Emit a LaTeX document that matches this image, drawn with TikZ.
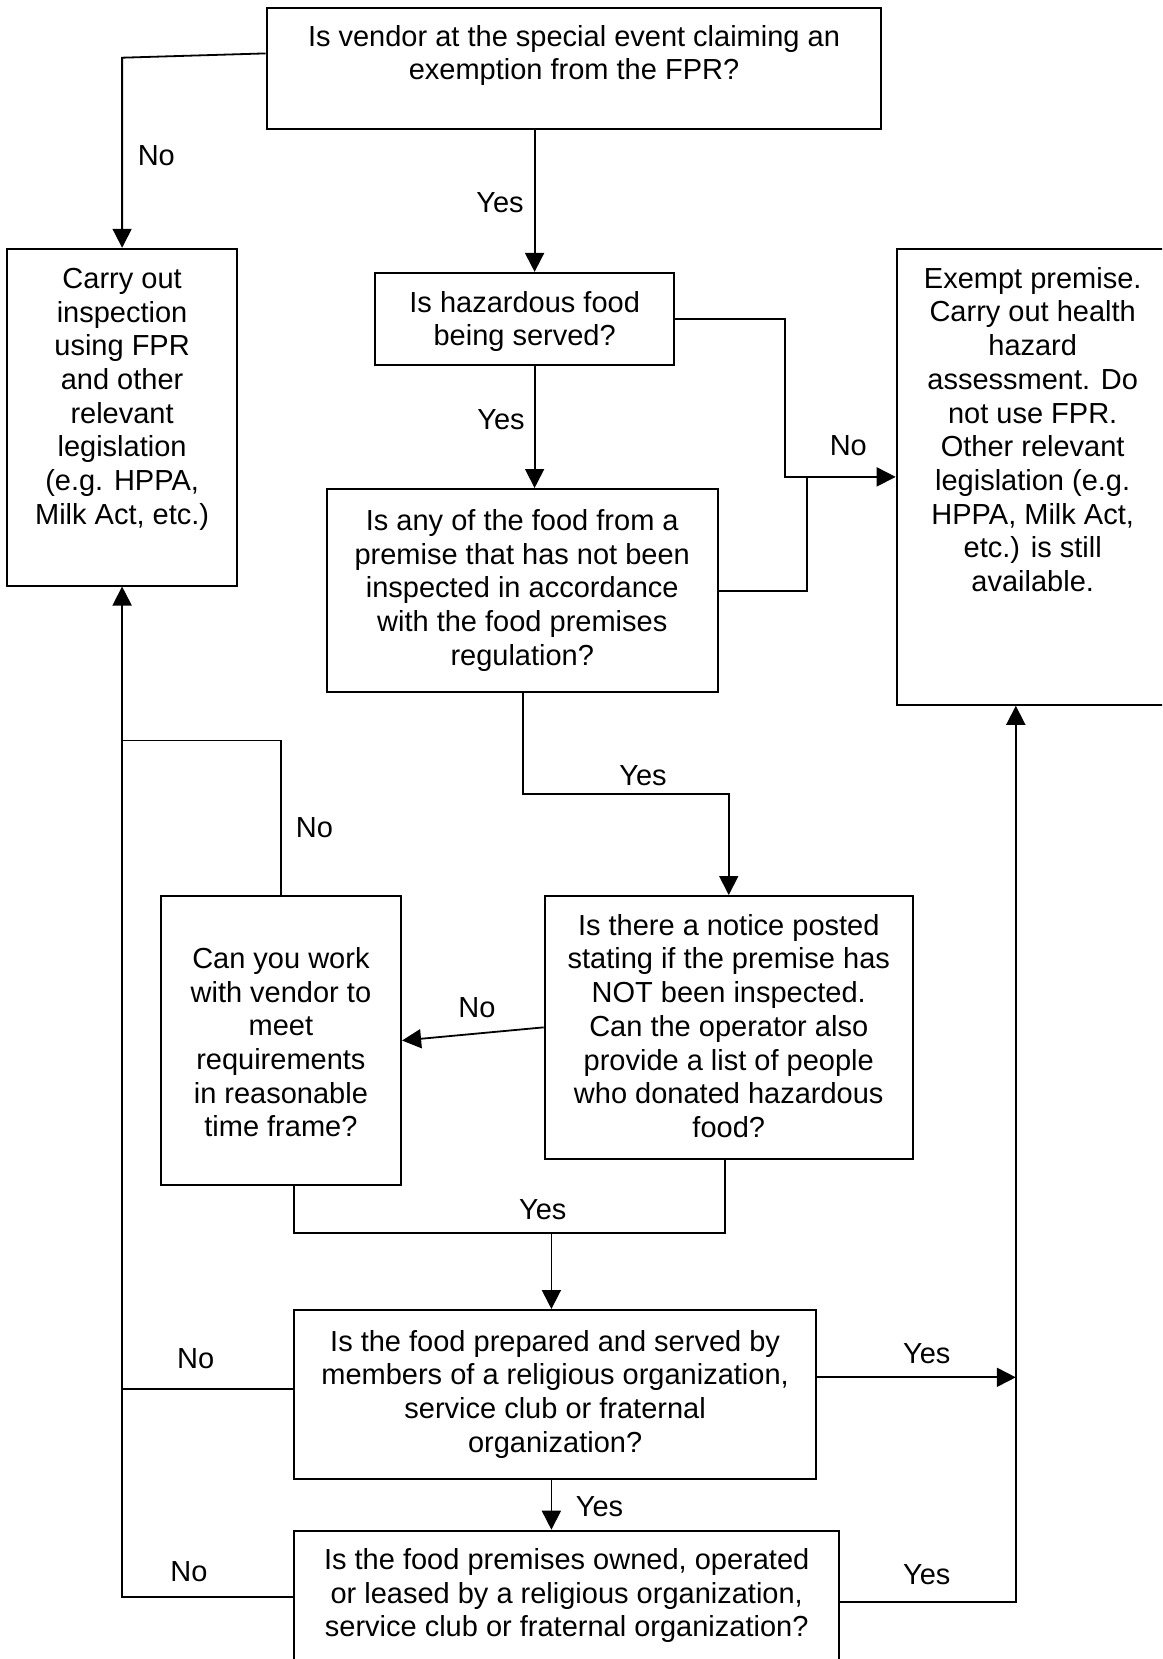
\documentclass[tikz,border=0pt]{standalone}
\usepackage{fontspec}
\setmainfont{Liberation Sans}
\usetikzlibrary{arrows.meta,calc}
\tikzset{
  box/.style={draw, line width=2pt, inner sep=0pt, rectangle},
  txt/.style={align=center, inner sep=0pt, anchor=north, font=\fontsize{29}{33.7}\selectfont},
  lbl/.style={inner sep=0pt, font=\fontsize{29}{33.7}\selectfont},
  conn/.style={line width=1.8pt},
  arr/.style={conn, -{Triangle[length=19pt,width=19pt]}},
}
\begin{document}
\begin{tikzpicture}[x=1pt,y=-1pt]
\useasboundingbox (0,0) rectangle (1162,1659);
\clip (0,0) rectangle (1162,1659);
\fill[white] (0,0) rectangle (1162,1659);

% boxes
\node[box, minimum width=614.6pt, minimum height=120.9pt] (q1) at (574,68.15) {};
\node[box, minimum width=230.4pt, minimum height=336.7pt] (insp) at (122.1,417.15) {};
\node[box, minimum width=299.4pt, minimum height=91.8pt] (haz) at (524.7,318.8) {};
\node[box, minimum width=391.1pt, minimum height=203.3pt] (prem) at (522.25,590.65) {};
\node[box, minimum width=272pt, minimum height=455.8pt] (exempt) at (1032.7,476.9) {};
\node[box, minimum width=368.1pt, minimum height=262.7pt] (notice) at (728.75,1027.35) {};
\node[box, minimum width=240.4pt, minimum height=289.4pt] (work) at (280.9,1040.5) {};
\node[box, minimum width=521.8pt, minimum height=169.3pt] (rel) at (555.1,1394.65) {};
\node[box, minimum width=544.4pt, minimum height=134.3pt] (own) at (566.4,1597.85) {};

% texts
\node[txt] (tq1) at (574,24.9) {Is vendor at the special event claiming an\\exemption from the FPR?};
\node[txt] (tinsp) at (122.1,268) {Carry out\\inspection\\using FPR\\and other\\relevant\\legislation\\(e.g. HPPA,\\Milk Act, etc.)};
\node[txt] (thaz) at (524.7,290.9) {Is hazardous food\\being served?};
\node[txt] (tprem) at (522.25,509.3) {Is any of the food from a\\premise that has not been\\inspected in accordance\\with the food premises\\regulation?};
\node[txt] (texempt) at (1032.7,267) {Exempt premise.\\Carry out health\\hazard\\assessment. Do\\not use FPR.\\Other relevant\\legislation (e.g.\\HPPA, Milk Act,\\etc.) is still\\available.};
\node[txt] (tnotice) at (728.75,914) {Is there a notice posted\\stating if the premise has\\NOT been inspected.\\Can the operator also\\provide a list of people\\who donated hazardous\\food?};
\node[txt] (twork) at (280.9,947.2) {Can you work\\with vendor to\\meet\\requirements\\in reasonable\\time frame?};
\node[txt] (trel) at (555.1,1330) {Is the food prepared and served by\\members of a religious organization,\\service club or fraternal\\organization?};
\node[txt] (town) at (566.7,1548.3) {Is the food premises owned, operated\\or leased by a religious organization,\\service club or fraternal organization?};

% helper coordinates
\coordinate (k1) at (122.1,57.7);
\coordinate (xY) at (534.6,0);
\coordinate (j1) at (785.3,0);
\coordinate (j2) at (806.8,0);
\coordinate (k6) at (522.8,794.2);
\coordinate (k8) at (122.1,740.4);
\coordinate (k9) at (294.2,1232.7);
\coordinate (xN) at (724.8,0);
\coordinate (xM) at (551.4,0);
\coordinate (yR) at (0,1389.3);
\coordinate (yO) at (0,1597.3);
\coordinate (xE) at (1015.8,0);
\coordinate (yRe) at (0,1377.3);
\coordinate (yOe) at (0,1601.7);

% connectors
\draw[arr] ($(q1.north west)!0.38!(q1.south west)$) -- (k1) -- (k1 |- insp.north);
\draw[arr] (q1.south -| xY) -- (haz.north -| xY);
\draw[arr] (haz.south -| xY) -- (prem.north -| xY);
\draw[arr] (haz.east) -- (haz.east -| j1) -- (j1 |- exempt.west) -- (exempt.west);
\draw[conn] (prem.east) -- (prem.east -| j2) -- (j2 |- exempt.west);
\draw[arr] (prem.south -| k6) -- (k6) -- (k6 -| notice.north) -- (notice.north);
\draw[arr] (notice.west) -- (work.east);
\draw[arr] (work.north) -- (work.north |- k8) -- (k8) -- (insp.south);
\draw[conn] (work.south -| k9) -- (k9) -- (k9 -| xN) -- (notice.south -| xN);
\draw[arr] (k9 -| xM) -- (rel.north -| xM);
\draw[arr] (rel.south -| xM) -- (own.north -| xM);
\draw[conn] (rel.west |- yR) -- (k8 |- yR) -- (k8);
\draw[conn] (own.west |- yO) -- (k8 |- yO) -- (k8 |- yR);
\draw[arr] (rel.east |- yRe) -- (xE |- yRe);
\draw[arr] (own.east |- yOe) -- (xE |- yOe) -- (exempt.south -| xE);

% labels
\node[lbl] (l1) at (156.3,156) {No};
\node[lbl] (l2) at (500,202.3) {Yes};
\node[lbl] (l3) at (501,419.6) {Yes};
\node[lbl] (l4) at (848.3,446) {No};
\node[lbl] (l5) at (643,775.7) {Yes};
\node[lbl] (l6) at (314.4,827.6) {No};
\node[lbl] (l7) at (476.9,1007.5) {No};
\node[lbl] (l8) at (542.8,1209.7) {Yes};
\node[lbl] (l9) at (195.6,1358.8) {No};
\node[lbl] (l10) at (926.7,1353.3) {Yes};
\node[lbl] (l11) at (599.5,1506.3) {Yes};
\node[lbl] (l12) at (189,1571.7) {No};
\node[lbl] (l13) at (926.7,1575) {Yes};
\end{tikzpicture}
\end{document}
